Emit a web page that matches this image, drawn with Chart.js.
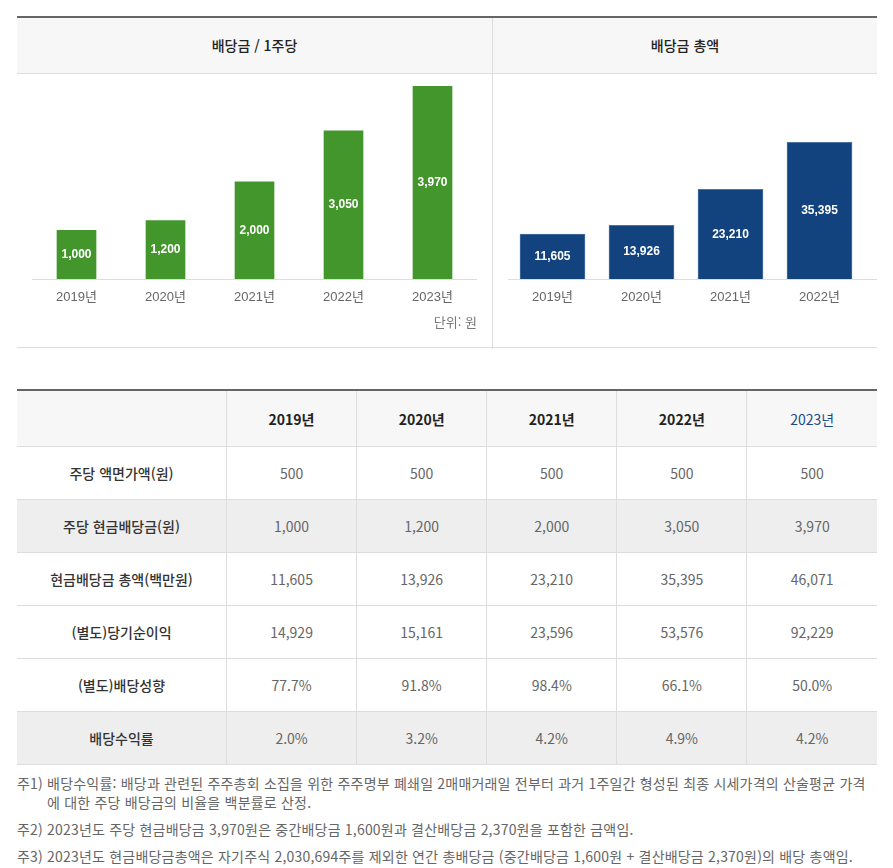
<!DOCTYPE html>
<html lang="ko">
<head>
<meta charset="utf-8">
<title>배당금</title>
<script src="https://cdn.jsdelivr.net/npm/chart.js@4"></script>
<style>
  body { margin: 0; background: #fff; font-family: "Noto Sans CJK KR", "Noto Sans", sans-serif; }
  .page { position: relative; width: 893px; height: 868px; }
  .charts { position: absolute; left: 17px; top: 16px; width: 860px; height: 332px;
            border-top: 2px solid #666; border-bottom: 1px solid #ddd; box-sizing: border-box; }
  .panel-head { position: absolute; top: 0; height: 55px; background: #f7f7f7; border-bottom: 1px solid #ddd;
                font-size: 14px; font-weight: 500; color: #222; text-align: center; line-height: 55px; }
  .divider { position: absolute; left: 475px; top: 0; width: 1px; height: 331px; background: #ddd; }
  canvas { position: absolute; }
  .unit { position: absolute; left: 0; width: 460px; top: 294px; text-align: right;
          font-size: 13px; color: #777; font-family: "Noto Sans CJK KR", sans-serif; }
  table { position: absolute; left: 17px; top: 389px; width: 860px; border-collapse: collapse;
          border-top: 2px solid #666; table-layout: fixed; }
  td, th { border: 1px solid #ddd; text-align: center; font-size: 14px; height: 52px; padding: 0; }
  tr > :first-child { border-left: none; }
  tr > :last-child { border-right: none; }
  thead th { background: #f7f7f7; height: 55px; color: #222; font-weight: bold; }
  thead th.latest { color: #1b4a89; font-weight: normal; }
  tbody th { color: #333; font-weight: 500; }
  tbody td { color: #666; }
  tbody tr.shade { background: #eee; }
  .notes { position: absolute; left: 17px; top: 774px; font-size: 14px; letter-spacing: 0.2px;
           color: #666; line-height: 19px; }
  .notes p { margin: 0 0 8px 0; white-space: nowrap; }
  .notes .indent { padding-left: 30px; }
</style>
</head>
<body>
<div class="page">
  <div class="charts">
    <div class="panel-head" style="left:0;width:475px;">배당금 / 1주당</div>
    <div class="panel-head" style="left:476px;width:384px;">배당금 총액</div>
    <div class="divider"></div>
    <canvas id="perShareChart" style="left:0;top:55px;width:475px;height:240px;"></canvas>
    <canvas id="totalChart" style="left:476px;top:55px;width:384px;height:240px;"></canvas>
    <div class="unit">단위: 원</div>
  </div>

  <table id="dividendTable">
    <thead><tr id="headRow"><th style="width:209px"></th></tr></thead>
    <tbody id="tableBody"></tbody>
  </table>

  <div class="notes">
    <p>주1) 배당수익률: 배당과 관련된 주주총회 소집을 위한 주주명부 폐쇄일 2매매거래일 전부터 과거 1주일간 형성된 최종 시세가격의 산술평균 가격<br><span class="indent">에 대한 주당 배당금의 비율을 백분률로 산정.</span></p>
    <p>주2) 2023년도 주당 현금배당금 3,970원은 중간배당금 1,600원과 결산배당금 2,370원을 포함한 금액임.</p>
    <p>주3) 2023년도 현금배당금총액은 자기주식 2,030,694주를 제외한 연간 총배당금 (중간배당금 1,600원 + 결산배당금 2,370원)의 배당 총액임.</p>
  </div>
</div>

<script>
// chart data
const years = ['2019년', '2020년', '2021년', '2022년', '2023년'];
const perShareDividend = [1000, 1200, 2000, 3050, 3970];
const totalYears = ['2019년', '2020년', '2021년', '2022년'];
const totalDividend = [11605, 13926, 23210, 35395];

// table data
const rowLabels = ['주당 액면가액(원)', '주당 현금배당금(원)', '현금배당금 총액(백만원)', '(별도)당기순이익', '(별도)배당성향', '배당수익률'];
const parValue = [500, 500, 500, 500, 500];
const cashDividend = [1000, 1200, 2000, 3050, 3970];
const cashDividendTotal = [11605, 13926, 23210, 35395, 46071];
const netIncome = [14929, 15161, 23596, 53576, 92229];
const payoutRatio = ['77.7%', '91.8%', '98.4%', '66.1%', '50.0%'];
const dividendYield = ['2.0%', '3.2%', '4.2%', '4.9%', '4.2%'];

const fmt = v => typeof v === 'number' ? v.toLocaleString('en-US') : v;

// Build the table
const headRow = document.getElementById('headRow');
years.forEach((y, i) => {
    const th = document.createElement('th');
    th.textContent = y;
    if (i === years.length - 1) th.className = 'latest';
    headRow.appendChild(th);
});
const tableRows = [parValue, cashDividend, cashDividendTotal, netIncome, payoutRatio, dividendYield];
const body = document.getElementById('tableBody');
tableRows.forEach((row, r) => {
    const tr = document.createElement('tr');
    if (r === 1 || r === 5) tr.className = 'shade';
    tr.innerHTML = `<th>${rowLabels[r]}</th>` + row.map(v => `<td>${fmt(v)}</td>`).join('');
    body.appendChild(tr);
});

// white value text centred in each bar
const barValueLabels = {
    id: 'barValueLabels',
    afterDatasetsDraw(chart) {
        const ctx = chart.ctx;
        const meta = chart.getDatasetMeta(0);
        ctx.save();
        ctx.font = 'bold 12px "Liberation Sans", Arial, sans-serif';
        ctx.fillStyle = '#fff';
        ctx.textAlign = 'center';
        ctx.textBaseline = 'middle';
        meta.data.forEach((bar, i) => {
            ctx.fillText(fmt(chart.data.datasets[0].data[i]), bar.x, (bar.y + bar.base) / 2);
        });
        ctx.restore();
    }
};

// grey base line, optionally running past the plot area
const baseLine = {
    id: 'baseLine',
    beforeDatasetsDraw(chart, args, opts) {
        const { ctx, chartArea } = chart;
        ctx.save();
        ctx.strokeStyle = '#ddd';
        ctx.lineWidth = 1;
        ctx.beginPath();
        ctx.moveTo(chartArea.left, chartArea.bottom + 0.5);
        ctx.lineTo(chartArea.right + (opts.extend || 0), chartArea.bottom + 0.5);
        ctx.stroke();
        ctx.restore();
    }
};

function makeBarChart(id, labels, values, color, border, yMax, padRight, extend) {
    const ctx = document.getElementById(id).getContext('2d');
    return new Chart(ctx, {
        type: 'bar',
        data: {
            labels: labels,
            datasets: [{
                data: values,
                backgroundColor: color,
                borderColor: border,
                borderWidth: border ? 1 : 0,
                barThickness: id === 'perShareChart' ? 39 : 65
            }]
        },
        options: {
            responsive: false,
            animation: false,
            layout: { padding: { left: 15, right: padRight, top: 13, bottom: 0 } },
            plugins: {
                legend: { display: false },
                tooltip: { enabled: false },
                baseLine: { extend: extend }
            },
            scales: {
                x: {
                    grid: { display: false },
                    border: { display: false },
                    ticks: {
                        color: '#666',
                        padding: 3,
                        font: { size: 13, family: '"Liberation Sans", "Noto Sans CJK KR", sans-serif' }
                    },
                    afterFit: axis => { axis.height = 34; }
                },
                y: { display: false, min: 0, max: yMax }
            }
        },
        plugins: [baseLine, barValueLabels]
    });
}

makeBarChart('perShareChart', years, perShareDividend, '#42962b', null, 3970, 15, 0);
makeBarChart('totalChart', totalYears, totalDividend, '#12437f', '#4d73a3', 50000, 13, 13);
</script>
</body>
</html>
